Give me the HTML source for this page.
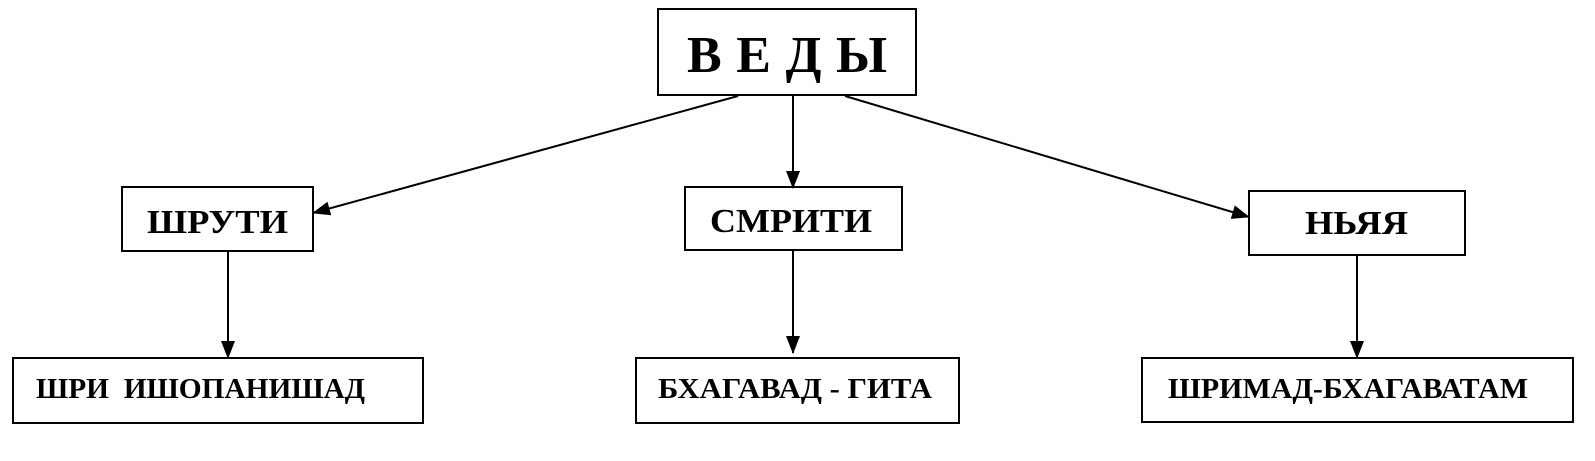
<!DOCTYPE html>
<html><head><meta charset="utf-8"><style>
html,body{margin:0;padding:0;background:#fff;overflow:hidden;}
svg{display:block;}
svg text{font-family:"Liberation Serif",serif;font-weight:bold;fill:#000;}
</style></head><body>
<svg width="1595" height="461" viewBox="0 0 1595 461" xmlns="http://www.w3.org/2000/svg">
<defs>
<marker id="b" markerWidth="18" markerHeight="18" refX="17" refY="9" orient="auto" markerUnits="userSpaceOnUse"><path d="M0,2 L18,9 L0,16 z" fill="#000"/></marker></defs>
<g fill="none" stroke="#000" stroke-width="2">
<rect x="658" y="9" width="258" height="86"/>
<rect x="122" y="187" width="191" height="64"/>
<rect x="685" y="187" width="217" height="63"/>
<rect x="1249" y="191" width="216" height="64"/>
<rect x="13" y="358" width="410" height="65"/>
<rect x="636" y="358" width="323" height="65"/>
<rect x="1142" y="358" width="431" height="64"/>
<line x1="738" y1="96" x2="313" y2="213" marker-end="url(#b)"/>
<line x1="793" y1="96" x2="793" y2="188" marker-end="url(#b)"/>
<line x1="845" y1="96" x2="1249" y2="217" marker-end="url(#b)"/>
<line x1="228" y1="251" x2="228" y2="358" marker-end="url(#b)"/>
<line x1="793" y1="250" x2="793" y2="353" marker-end="url(#b)"/>
<line x1="1357" y1="255" x2="1357" y2="358" marker-end="url(#b)"/>
</g>
<text x="687" y="72" font-size="52" textLength="200" lengthAdjust="spacing">В Е Д Ы</text>
<text x="147" y="233" font-size="34" textLength="141" lengthAdjust="spacingAndGlyphs">ШРУТИ</text>
<text x="710" y="232" font-size="34" textLength="162" lengthAdjust="spacingAndGlyphs">СМРИТИ</text>
<text x="1305" y="234" font-size="34" textLength="103" lengthAdjust="spacingAndGlyphs">НЬЯЯ</text>
<text x="36" y="398" font-size="28" xml:space="preserve" textLength="329" lengthAdjust="spacingAndGlyphs">ШРИ  ИШОПАНИШАД</text>
<text x="658" y="398" font-size="28" textLength="274" lengthAdjust="spacingAndGlyphs">БХАГАВАД - ГИТА</text>
<text x="1168" y="398" font-size="28" textLength="360" lengthAdjust="spacingAndGlyphs">ШРИМАД-БХАГАВАТАМ</text>
</svg>
</body></html>
